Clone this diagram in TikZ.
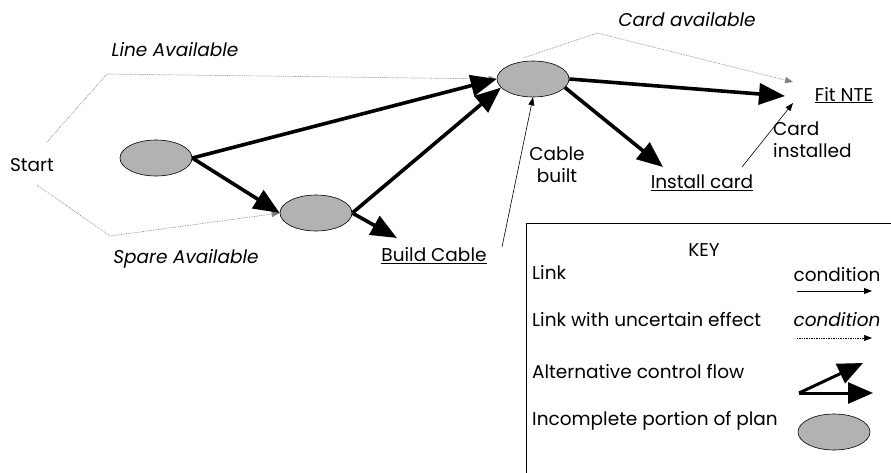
\documentclass[tikz,border=0pt]{standalone}
\usepackage{fontspec}
\setmainfont{Poppins}
\usetikzlibrary{arrows.meta,shapes.geometric}
\begin{document}
\begin{tikzpicture}[x=1pt,y=-1pt,
  plan/.style={ellipse,draw=black,fill=black!30,line width=0.6pt,minimum width=72pt,minimum height=36pt,inner sep=0pt},
  lbl/.style={font=\fontsize{18.5}{22}\selectfont,inner sep=0pt},
  ilbl/.style={lbl,font=\fontsize{18.5}{22}\selectfont\itshape},
  ulbl/.style={lbl},
  bigarrow/.style={line width=3.6pt,-{Triangle[length=26pt,width=21pt]}},
  altarrow/.style={line width=3pt,-{Triangle[length=25pt,width=21pt]}},
  thinarrow/.style={line width=0.6pt,-{Triangle[length=8pt,width=6pt]}},
  dotarrow/.style={gray,densely dotted,line width=0.7pt,-{Triangle[length=8pt,width=6pt]}}]
\useasboundingbox (0,0) rectangle (891,472);
% plan ellipses
\node[plan] (e1) at (156,158) {};
\node[plan] (e2) at (316,213) {};
\node[plan] (e3) at (533,79) {};
% labels
\node[lbl] (start) at (32,165) {Start};
\node[ilbl] (line) at (175,50) {Line Available};
\node[ilbl] (spare) at (186,259) {Spare Available};
\node[ulbl] (build) at (434,256) {\underline{Build Cable}};
\node[ilbl] (cardav) at (687,20) {Card available};
\node[ulbl] (fit) at (844,95) {\underline{Fit NTE}};
\node[ulbl] (install) at (702,183) {\underline{Install card}};
\node[lbl,align=center] (cablebuilt) at (557,165) {Cable\\built};
\node[lbl,align=left,anchor=west] (cardinst) at (773,140) {Card\\installed};
% tip coordinates
\coordinate (fittip) at (785,96);
\coordinate (insttip) at (663,167);
\coordinate (buildtip) at (397,238);
\coordinate (cbstart) at (502,247);
\coordinate (cistart) at (742,167);
\coordinate (citip) at (793,103);
\coordinate (catip) at (793,82);
\coordinate (la1) at (47,142);
\coordinate (la2) at (107,74);
\coordinate (sa1) at (37,185);
\coordinate (sa2) at (110,236);
\coordinate (ca1) at (523,58);
\coordinate (ca2) at (597,33);
% dotted links
\draw[dotarrow] (la1) -- (la2) -- (e3.west);
\draw[dotarrow] (sa1) -- (sa2) -- (e2.west);
\draw[dotarrow] (ca1) -- (ca2) -- (catip);
% thick links
\draw[bigarrow] (e1.east) -- (e3.west);
\draw[bigarrow] (e1.east) -- (e2.west);
\draw[bigarrow] (e2.east) -- (e3.195);
\draw[bigarrow] (e2.east) -- (buildtip);
\draw[bigarrow] (e3.east) -- (fittip);
\draw[bigarrow] (e3.-15) -- (insttip);
% thin links
\draw[thinarrow] (cbstart) -- (e3.south);
\draw[thinarrow] (cistart) -- (citip);
% key
\node[draw=black,line width=0.6pt,minimum width=372pt,minimum height=260pt,anchor=north west,inner sep=0pt] (keybox) at (526,223) {};
\node[lbl] (keytitle) at (704,250) {KEY};
\node[lbl,anchor=west] (k1) at (532,272) {Link};
\node[lbl] (k1c) at (837,275) {condition};
\coordinate (k1a) at (797,291);
\coordinate (k1b) at (872,291);
\draw[thinarrow,line width=0.8pt] (k1a) -- (k1b);
\node[lbl,anchor=west] (k2) at (532,320) {Link with uncertain effect};
\node[ilbl] (k2c) at (837,320) {condition};
\coordinate (k2a) at (797,338);
\coordinate (k2b) at (872,338);
\draw[dotarrow,black] (k2a) -- (k2b);
\node[lbl,anchor=west] (k3) at (532,372) {Alternative control flow};
\coordinate (k3o) at (799,393);
\coordinate (k3a) at (873,393);
\coordinate (k3b) at (863,363);
\draw[altarrow] (k3o) -- (k3a);
\draw[altarrow] (k3o) -- (k3b);
\node[lbl,anchor=west] (k4) at (532,421) {Incomplete portion of plan};
\node[plan] (ek) at (834,432) {};
\end{tikzpicture}
\end{document}
